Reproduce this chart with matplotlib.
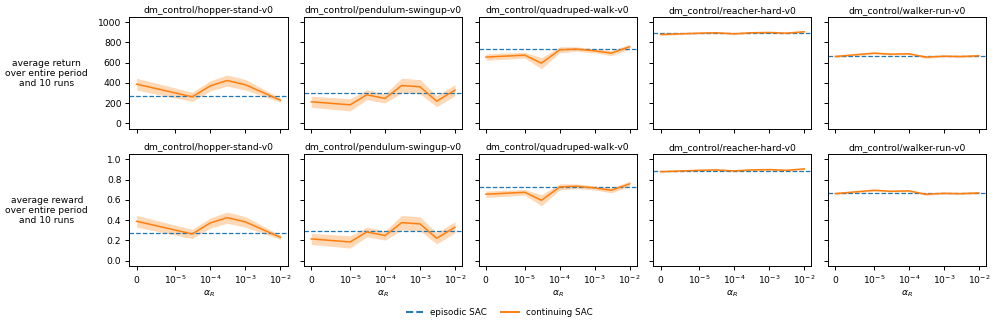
import numpy as np
import matplotlib.pyplot as plt

# valores de alpha_R testados
alphas = [0, 1e-5, 3e-5, 1e-4, 3e-4, 1e-3, 3e-3, 1e-2]
alphas_hopper = [0, 3e-5, 1e-4, 3e-4, 1e-3, 1e-2]

envs = ["dm_control/hopper-stand-v0", "dm_control/pendulum-swingup-v0",
        "dm_control/quadruped-walk-v0", "dm_control/reacher-hard-v0",
        "dm_control/walker-run-v0"]

# retorno medio (linha de cima)
ret_hopper = [388, 263, 372, 424, 382, 230]
ret_pendulum = [214, 184, 283, 247, 375, 362, 220, 329]
ret_quadruped = [655, 674, 595, 727, 734, 717, 694, 757]
ret_reacher = [878, 891, 895, 885, 895, 898, 891, 905]
ret_walker = [661, 694, 684, 688, 655, 664, 661, 668]

ret_hopper_err = [58, 45, 50, 55, 52, 20]
ret_pendulum_err = [55, 60, 48, 45, 72, 70, 55, 55]
ret_quadruped_err = [32, 28, 55, 30, 22, 20, 25, 25]
ret_reacher_err = [9, 8, 8, 10, 8, 8, 8, 8]
ret_walker_err = [10, 10, 8, 8, 12, 8, 10, 10]

ret_episodic = [273, 296, 730, 888, 664]

# recompensa media (linha de baixo)
rew_hopper = [0.388, 0.263, 0.372, 0.424, 0.382, 0.230]
rew_pendulum = [0.214, 0.184, 0.283, 0.247, 0.375, 0.362, 0.220, 0.329]
rew_quadruped = [0.655, 0.674, 0.595, 0.727, 0.734, 0.717, 0.694, 0.757]
rew_reacher = [0.878, 0.891, 0.895, 0.885, 0.895, 0.898, 0.891, 0.905]
rew_walker = [0.661, 0.694, 0.684, 0.688, 0.655, 0.664, 0.661, 0.668]

rew_hopper_err = [0.058, 0.045, 0.050, 0.055, 0.052, 0.020]
rew_pendulum_err = [0.055, 0.060, 0.048, 0.045, 0.072, 0.070, 0.055, 0.055]
rew_quadruped_err = [0.032, 0.028, 0.055, 0.030, 0.022, 0.020, 0.025, 0.025]
rew_reacher_err = [0.009, 0.008, 0.008, 0.010, 0.008, 0.008, 0.008, 0.008]
rew_walker_err = [0.010, 0.010, 0.008, 0.008, 0.012, 0.008, 0.010, 0.010]

rew_episodic = [0.273, 0.296, 0.730, 0.888, 0.664]

xs = [alphas_hopper, alphas, alphas, alphas, alphas]
rets = [ret_hopper, ret_pendulum, ret_quadruped, ret_reacher, ret_walker]
ret_errs = [ret_hopper_err, ret_pendulum_err, ret_quadruped_err, ret_reacher_err, ret_walker_err]
rews = [rew_hopper, rew_pendulum, rew_quadruped, rew_reacher, rew_walker]
rew_errs = [rew_hopper_err, rew_pendulum_err, rew_quadruped_err, rew_reacher_err, rew_walker_err]

# tudo um pouco menor, como na figura original reduzida
plt.rcParams['font.size'] = 6.6
plt.rcParams['axes.linewidth'] = 0.7
plt.rcParams['xtick.major.size'] = 2.9
plt.rcParams['ytick.major.size'] = 2.9
plt.rcParams['xtick.major.width'] = 0.7
plt.rcParams['ytick.major.width'] = 0.7
plt.rcParams['xtick.major.pad'] = 2.9
plt.rcParams['ytick.major.pad'] = 2.9

fig, axes = plt.subplots(2, 5, figsize=(9.96, 3.28), dpi=100, sharex=True)
fig.subplots_adjust(left=0.13, right=0.99, top=0.948, bottom=0.19, wspace=0.105, hspace=0.23)

linhas = [(rets, ret_errs, ret_episodic, 1000, "average return\nover entire period\nand 10 runs"),
          (rews, rew_errs, rew_episodic, 1.0, "average reward\nover entire period\nand 10 runs")]

for i, (ys, errs, epis, escala, rotulo) in enumerate(linhas):
    for j in range(5):
        ax = axes[i, j]
        x = np.array(xs[j])
        y = np.array(ys[j])
        e = np.array(errs[j])
        ax.axhline(epis[j], color="C0", linestyle="--", linewidth=0.9, label="episodic SAC")
        ax.plot(x, y, color="C1", linewidth=1.1, label="continuing SAC")
        ax.fill_between(x, y - e, y + e, color="C1", alpha=0.3, linewidth=0)
        ax.set_xscale("symlog", linthresh=1e-5)
        ax.set_xticks([0, 1e-5, 1e-4, 1e-3, 1e-2])
        ax.set_xticks([], minor=True)
        ax.set_ylim(-0.05 * escala, 1.05 * escala)
        ax.set_title(envs[j], fontsize=6.6, pad=3)
        ax.set_yticks(np.linspace(0, escala, 6))
        if j > 0:
            ax.set_yticklabels([])
        if i == 1:
            ax.set_xticklabels([r"$\mathdefault{0}$", "$\\mathdefault{10^{-5}}$", "$\\mathdefault{10^{-4}}$",
                                "$\\mathdefault{10^{-3}}$", "$\\mathdefault{10^{-2}}$"])
            ax.set_xlabel(r"$\alpha_R$", labelpad=2)
        else:
            ax.tick_params(labelbottom=False)
    # rotulo da linha
    pos = axes[i, 0].get_position()
    fig.text(0.047, (pos.y0 + pos.y1) / 2 - 0.002, rotulo, ha="center", va="center", fontsize=6.6)

h, l = axes[1, 0].get_legend_handles_labels()
leg = fig.legend(h, l, loc="center", ncol=2, frameon=False, bbox_to_anchor=(0.501, 0.046),
                 columnspacing=1.6, handlelength=2.0, handletextpad=0.8, fontsize=6.3)
for linha in leg.get_lines():
    linha.set_linewidth(1.4)

plt.savefig("out.png")
